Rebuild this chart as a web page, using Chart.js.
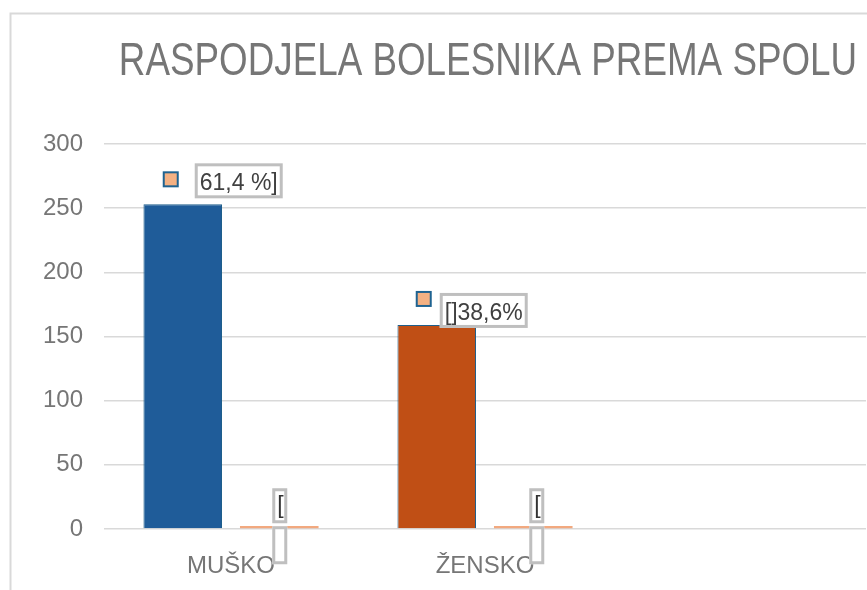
<!DOCTYPE html>
<html>
<head>
<meta charset="utf-8">
<script src="https://cdn.jsdelivr.net/npm/chart.js@4.4.1/dist/chart.umd.min.js"></script>
<style>
  html, body { margin: 0; padding: 0; background: #fff; }
  #wrap { width: 867px; height: 590px; }
</style>
</head>
<body>
<div id="wrap"><canvas id="chart" width="867" height="590"></canvas></div>
<script>
const titleText = 'RASPODJELA BOLESNIKA PREMA SPOLU';
const categories = ['MUŠKO', 'ŽENSKO', ''];
const patients = [253, 159, null];
const shares = [0.614, 0.386, null];
const patientLabels = ['61,4 %]', '[]38,6%'];
const shareLabels = ['[', '['];
const yTicks = [0, 50, 100, 150, 200, 250, 300];

const FONT = '"Liberation Sans", Arial, sans-serif';
const GREY_TEXT = '#767676';
const SALMON = '#F4B183';
const KEY_EDGE = '#1F6391';

// label boxes were dragged around by hand in the original, so offsets per point
const patientLabelPos = [
  { boxDx: 12, boxDy: -41, markDx: -19, markDy: -32 },
  { boxDx: 3, boxDy: -32, markDx: -20, markDy: -33 }
];
const shareLabelDx = [0, 3];

function greyBox(ctx, x, y, w, h) {
  ctx.fillStyle = '#fff';
  ctx.fillRect(x, y, w, h);
  ctx.strokeStyle = '#bfbfbf';
  ctx.lineWidth = 3;
  ctx.strokeRect(x + 1.5, y + 1.5, w - 3, h - 3);
}

const chartFrame = {
  id: 'chartFrame',
  beforeDraw(chart) {
    const ctx = chart.ctx;
    ctx.save();
    ctx.fillStyle = '#fff';
    ctx.fillRect(0, 0, chart.width, chart.height);
    ctx.strokeStyle = '#d9d9d9';
    ctx.lineWidth = 2;
    ctx.strokeRect(10.5, 13.5, chart.width + 40, chart.height + 40);
    // excel squeezed the title a bit
    ctx.fillStyle = GREY_TEXT;
    ctx.font = '46px ' + FONT;
    ctx.textAlign = 'center';
    ctx.textBaseline = 'alphabetic';
    ctx.translate(488, 75);
    ctx.scale(0.8, 1);
    ctx.fillText(titleText, 0, 0);
    ctx.restore();
  }
};

const boxedLabels = {
  id: 'boxedLabels',
  afterDatasetsDraw(chart) {
    const ctx = chart.ctx;
    ctx.save();
    ctx.font = '23px ' + FONT;
    ctx.textAlign = 'left';
    ctx.textBaseline = 'alphabetic';

    chart.getDatasetMeta(0).data.forEach((bar, i) => {
      const pos = patientLabelPos[i];
      if (!pos || patients[i] == null) return;
      const tw = ctx.measureText(patientLabels[i]).width;
      const bx = bar.x + pos.boxDx;
      const by = bar.y + pos.boxDy;
      greyBox(ctx, bx, by, tw + 10, 35);
      ctx.fillStyle = '#404040';
      ctx.fillText(patientLabels[i], bx + 5, by + 27);
      // legend key in front of label
      const mx = bar.x + pos.markDx, my = bar.y + pos.markDy;
      ctx.fillStyle = SALMON;
      ctx.fillRect(mx, my, 14, 14);
      ctx.strokeStyle = KEY_EDGE;
      ctx.lineWidth = 2;
      ctx.strokeRect(mx, my, 14, 14);
    });

    chart.getDatasetMeta(1).data.forEach((bar, i) => {
      if (shares[i] == null) return;
      const cx = bar.x + shareLabelDx[i];
      const base = bar.base;
      greyBox(ctx, cx - 7, base - 40, 15, 35);
      ctx.fillStyle = '#333';
      ctx.fillText(shareLabels[i], cx - 2, base - 15);
      greyBox(ctx, cx - 7, base - 2, 15, 38);
    });
    ctx.restore();
  }
};

new Chart(document.getElementById('chart'), {
  type: 'bar',
  data: {
    labels: categories,
    datasets: [
      {
        label: 'Broj bolesnika',
        data: patients,
        backgroundColor: ['#1F5C99', '#C04F15'],
        borderColor: '#1F5F8B',
        borderWidth: 1,
        categoryPercentage: 0.76,
        barPercentage: 0.814
      },
      {
        label: 'Udio',
        data: shares,
        backgroundColor: '#F2A97F',
        borderWidth: 0,
        minBarLength: 3,
        categoryPercentage: 0.76,
        barPercentage: 0.814
      }
    ]
  },
  options: {
    responsive: false,
    animation: false,
    layout: { padding: { top: 144, right: 1, left: 0, bottom: 0 } },
    plugins: {
      legend: { display: false },
      title: { display: false },
      tooltip: { enabled: false }
    },
    scales: {
      x: {
        grid: { display: false, drawTicks: false },
        border: { display: false },
        ticks: { color: GREY_TEXT, font: { family: FONT, size: 24 }, padding: 23 },
        afterFit(scale) { scale.height = 61; }
      },
      y: {
        min: 0,
        max: 300,
        afterBuildTicks(scale) { scale.ticks = yTicks.map(v => ({ value: v })); },
        grid: { color: '#d9d9d9', lineWidth: 1.5, drawTicks: false },
        border: { display: false },
        ticks: { color: GREY_TEXT, font: { family: FONT, size: 24 }, padding: 21 },
        afterFit(scale) { scale.width = 104; }
      }
    }
  },
  plugins: [chartFrame, boxedLabels]
});
</script>
</body>
</html>
